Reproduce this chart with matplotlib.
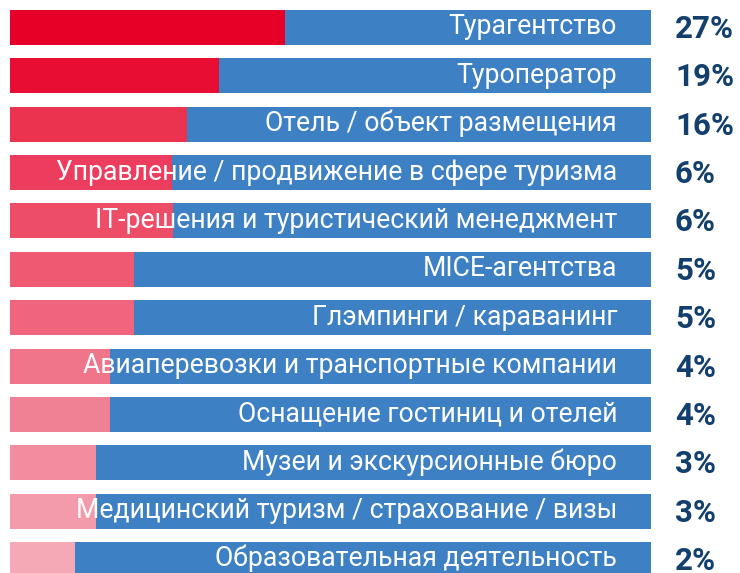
import matplotlib
matplotlib.use("Agg")
import matplotlib.pyplot as plt

# Categories (top to bottom)
categories = [
    "Турагентство",
    "Туроператор",
    "Отель / объект размещения",
    "Управление / продвижение в сфере туризма",
    "IT-решения и туристический менеджмент",
    "MICE-агентства",
    "Глэмпинги / караванинг",
    "Авиаперевозки и транспортные компании",
    "Оснащение гостиниц и отелей",
    "Музеи и экскурсионные бюро",
    "Медицинский туризм / страхование / визы",
    "Образовательная деятельность",
]
# Percent labels shown on the right
shares = [27, 19, 16, 6, 6, 5, 5, 4, 4, 3, 3, 2]
# Length of the red part of each bar, in percent of the full bar
fill = [42.9, 32.6, 27.6, 25.3, 25.4, 19.3, 19.3, 15.6, 15.6, 13.4, 13.4, 10.1]

reds = ["#e60028", "#e80e33", "#eb3350", "#ec3d5e", "#ee4d68", "#ef5a72",
        "#f0657d", "#f0748a", "#f08094", "#f28da0", "#f39bab", "#f5a8b6"]
blue = "#3d80c3"
navy = "#123f6b"

W, H = 740, 573
fig = plt.figure(figsize=(W / 100, H / 100), dpi=100)
step = 48.36
ax = fig.add_axes([10 / W, (H - 27.5 - 11.5 * step) / H, 641 / W, 12 * step / H])

y = list(range(len(categories)))
ax.barh(y, [100] * len(y), height=35 / step, color=blue)
ax.barh(y, fill, height=35 / step, color=reds)

for i, (lab, s) in enumerate(zip(categories, shares)):
    ax.annotate(lab, xy=(100, i), xytext=(-34, -7), textcoords="offset pixels",
                ha="right", va="baseline", color="white", fontsize=19.2,
                family="Roboto", annotation_clip=False)
    ax.annotate(f"{s}%", xy=(100, i), xytext=(24, -10.5),
                textcoords="offset pixels", ha="left", va="baseline",
                color=navy, fontsize=22.5, fontweight="bold", family="Roboto",
                annotation_clip=False)

ax.set_xlim(0, 100)
ax.set_ylim(11.5, -0.5)
ax.axis("off")

fig.savefig("out.png", dpi=100)
